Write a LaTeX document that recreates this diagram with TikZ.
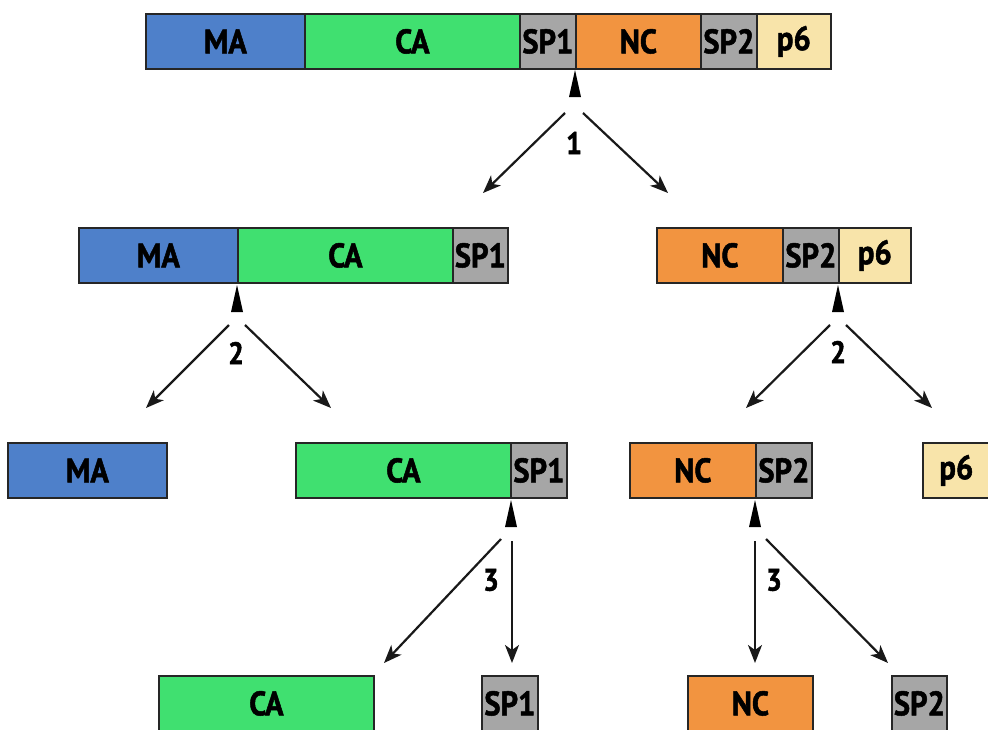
\documentclass[tikz,border=0pt]{standalone}
\usepackage{fontspec}
\newfontfamily\lab[FakeStretch=0.9,FakeBold=1.5]{PT Sans}
\usetikzlibrary{arrows.meta}
\definecolor{cMA}{RGB}{78,128,202}
\definecolor{cCA}{RGB}{64,224,112}
\definecolor{cSP}{RGB}{166,166,166}
\definecolor{cNC}{RGB}{242,148,64}
\definecolor{cP}{RGB}{248,228,170}
\tikzset{
  seg/.style={draw=black!85, line width=1.8pt, minimum height=55pt, inner sep=0pt,
    anchor=north west, font=\lab\bfseries\fontsize{34}{34}\selectfont, text=black},
  cut/.style={draw=black!90, line width=2.2pt, -{Stealth[length=18pt,width=14pt,inset=5pt]}},
  num/.style={font=\lab\bfseries\fontsize{31}{31}\selectfont, inner sep=0pt}
}
\begin{document}
\begin{tikzpicture}[x=1pt,y=-1pt]
\useasboundingbox (0,0) rectangle (988,729);
% Row 1
\node[seg, fill=cMA, minimum width=159pt] (a1) at (145,13) {MA};
\node[seg, fill=cCA, minimum width=215pt] (a2) at (304,13) {CA};
\node[seg, fill=cSP, minimum width=56pt] (a3) at (519,13) {SP1};
\node[seg, fill=cNC, minimum width=125pt] (a4) at (575,13) {NC};
\node[seg, fill=cSP, minimum width=56pt] (a5) at (700,13) {SP2};
\node[seg, fill=cP, minimum width=74pt] (a6) at (756,13) {p6};
% Row 2
\node[seg, fill=cMA, minimum width=159pt] (b1) at (78,227) {MA};
\node[seg, fill=cCA, minimum width=215pt] (b2) at (237,227) {CA};
\node[seg, fill=cSP, minimum width=55pt] (b3) at (452,227) {SP1};
\node[seg, fill=cNC, minimum width=126pt] (c1) at (656,227) {NC};
\node[seg, fill=cSP, minimum width=56pt] (c2) at (782,227) {SP2};
\node[seg, fill=cP, minimum width=72pt] (c3) at (838,227) {p6};
% Row 3
\node[seg, fill=cMA, minimum width=159pt] (d1) at (7,442) {MA};
\node[seg, fill=cCA, minimum width=215pt] (e1) at (295,442) {CA};
\node[seg, fill=cSP, minimum width=56pt] (e2) at (510,442) {SP1};
\node[seg, fill=cNC, minimum width=126pt] (f1) at (629,442) {NC};
\node[seg, fill=cSP, minimum width=56pt] (f2) at (755,442) {SP2};
\node[seg, fill=cP, minimum width=73pt] (g1) at (922,442) {\hspace*{-6pt}p6};
% Row 4
\node[seg, fill=cCA, minimum width=215pt] (h1) at (158,675) {CA};
\node[seg, fill=cSP, minimum width=56pt] (h2) at (481,675) {SP1};
\node[seg, fill=cNC, minimum width=125pt] (h3) at (687,675) {NC};
\node[seg, fill=cSP, minimum width=55pt] (h4) at (891,675) {SP2};

% Cleavage 1
\coordinate (t1) at (575,70);
\fill (t1) -- (581,97) -- (569,97) -- cycle;
\coordinate (s1l) at (565,113); \coordinate (s1r) at (583,113);
\coordinate (e1l) at (483,193); \coordinate (e1r) at (668,193);
\draw[cut] (s1l) -- (e1l);
\draw[cut] (s1r) -- (e1r);
\node[num] (n1) at (574,143) {1};

% Cleavage 2 left
\coordinate (t2) at (237,285);
\fill (t2) -- (243,312) -- (231,312) -- cycle;
\coordinate (s2l) at (229,325); \coordinate (s2r) at (245,325);
\coordinate (e2l) at (146,408); \coordinate (e2r) at (331,408);
\draw[cut] (s2l) -- (e2l);
\draw[cut] (s2r) -- (e2r);
\node[num] (n2) at (236,353) {2};

% Cleavage 2 right
\coordinate (t3) at (838,285);
\fill (t3) -- (844,312) -- (832,312) -- cycle;
\coordinate (s3l) at (830,325); \coordinate (s3r) at (846,325);
\coordinate (e3l) at (746,408); \coordinate (e3r) at (932,408);
\draw[cut] (s3l) -- (e3l);
\draw[cut] (s3r) -- (e3r);
\node[num] (n3) at (838,352) {2};

% Cleavage 3 left
\coordinate (t4) at (511,500);
\fill (t4) -- (517,527) -- (505,527) -- cycle;
\coordinate (s4l) at (501,539); \coordinate (s4r) at (512,541);
\coordinate (e4l) at (384,663); \coordinate (e4r) at (512,663);
\draw[cut] (s4l) -- (e4l);
\draw[cut] (s4r) -- (e4r);
\node[num] (n4) at (491,580) {3};

% Cleavage 3 right
\coordinate (t5) at (755,500);
\fill (t5) -- (761,527) -- (749,527) -- cycle;
\coordinate (s5l) at (755,541); \coordinate (s5r) at (766,539);
\coordinate (e5l) at (755,663); \coordinate (e5r) at (888,663);
\draw[cut] (s5l) -- (e5l);
\draw[cut] (s5r) -- (e5r);
\node[num] (n5) at (774,580) {3};
\end{tikzpicture}
\end{document}
